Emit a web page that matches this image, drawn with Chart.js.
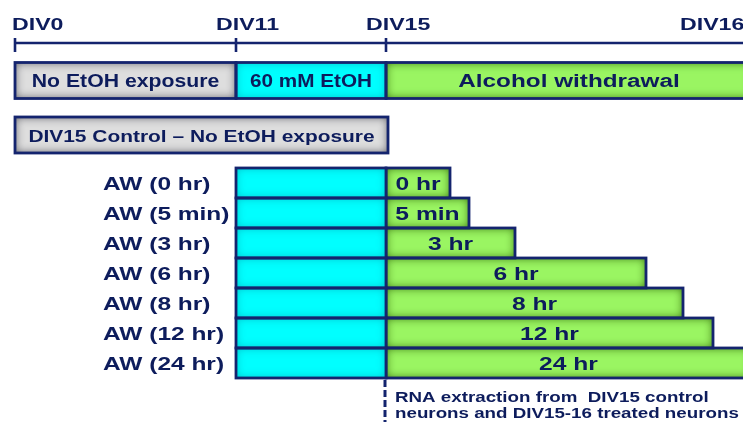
<!DOCTYPE html>
<html>
<head>
<meta charset="utf-8">
<script src="https://cdn.jsdelivr.net/npm/chart.js@4.4.1/dist/chart.umd.min.js"></script>
<style>
  html, body { margin: 0; padding: 0; background: #ffffff; overflow: hidden; }
  canvas { display: block; }
</style>
</head>
<body>
<canvas id="c" width="743" height="422"></canvas>
<script>
// ---------------- DATA (schematic timeline units) ----------------
const divLabels = ['DIV0', 'DIV11', 'DIV15', 'DIV16'];
const divTickPositions = [15, 236, 386, 700];
const divTickVisible = [true, true, true, false];

const phaseLabels = ['No EtOH exposure', '60 mM EtOH', 'Alcohol withdrawal'];
const phaseStarts = [15, 236, 386];
const phaseEnds = [236, 386, 752];

const controlLabel = 'DIV15 Control \u2013 No EtOH exposure';
const controlStart = 15;
const controlEnd = 388;

const awLabels = ['AW (0 hr)', 'AW (5 min)', 'AW (3 hr)', 'AW (6 hr)', 'AW (8 hr)', 'AW (12 hr)', 'AW (24 hr)'];
const awDurationLabels = ['0 hr', '5 min', '3 hr', '6 hr', '8 hr', '12 hr', '24 hr'];
const exposureStart = 236;
const exposureEnd = 386;
const withdrawalEnds = [450, 469, 515, 646, 683, 713, 751];

const noteLines = ['RNA extraction from  DIV15 control', 'neurons and DIV15-16 treated neurons'];

// ---------------- LAYOUT / STYLE ----------------
const NAVY = '#0d1c5c';
const BORDER = '#14246e';
const GRAY = '#dedede', CYAN = '#00ffff', GREEN = '#9af562';
const phaseColors = [GRAY, CYAN, GREEN];
const phaseRowY = 80.5, controlRowY = 135, awRowY0 = 183, awRowStep = 30;
const timelineY = 43;
const awRowY = awLabels.map((_, i) => awRowY0 + i * awRowStep);
const phaseTextScale = [1.18, 1.15, 1.35];
const FONT = '"Liberation Sans", Arial, sans-serif';

function shadeFor(color) {
  if (color === GREEN) return 'rgba(45,100,5,0.95)';
  if (color === CYAN) return 'rgba(0,120,140,0.5)';
  return 'rgba(60,60,70,0.85)';
}

function txt(ctx, s, x, y, size, sx, align) {
  ctx.save();
  ctx.font = 'bold ' + size + 'px ' + FONT;
  ctx.textBaseline = 'alphabetic';
  ctx.textAlign = 'left';
  const w = ctx.measureText(s).width * sx;
  const left = align === 'center' ? x - w / 2 : (align === 'right' ? x - w : x);
  ctx.translate(left, y);
  ctx.scale(sx, 1);
  ctx.fillStyle = NAVY;
  ctx.fillText(s, 0, 0);
  ctx.restore();
}

const barShading = {
  id: 'barShading',
  afterDatasetDraw(chart, args) {
    const ctx = chart.ctx;
    const meta = args.meta;
    const ds = chart.data.datasets[args.index];
    meta.data.forEach((bar, i) => {
      const p = bar.getProps(['x', 'y', 'base', 'height'], true);
      const left = Math.min(p.x, p.base), right = Math.max(p.x, p.base);
      const top = p.y - p.height / 2, h = p.height, w = right - left;
      const fill = Array.isArray(ds.backgroundColor) ? ds.backgroundColor[i] : ds.backgroundColor;
      ctx.save();
      ctx.beginPath();
      ctx.rect(left, top, w, h);
      ctx.clip();
      ctx.beginPath();
      ctx.rect(left - 50, top - 50, w + 100, h + 100);
      ctx.rect(left, top, w, h);
      ctx.shadowColor = shadeFor(fill);
      ctx.shadowBlur = 10;
      ctx.fillStyle = '#000';
      ctx.fill('evenodd');
      ctx.restore();
      ctx.save();
      ctx.strokeStyle = BORDER;
      ctx.lineWidth = 2.8;
      ctx.strokeRect(left, top, w, h);
      ctx.restore();
    });
  }
};

const annotations = {
  id: 'annotations',
  afterDraw(chart) {
    const ctx = chart.ctx;
    const xs = chart.scales.x, ys = chart.scales.y;
    const X = v => xs.getPixelForValue(v), Y = v => ys.getPixelForValue(v);
    ctx.save();
    ctx.strokeStyle = BORDER;
    ctx.lineWidth = 2.6;
    ctx.beginPath();
    ctx.moveTo(X(divTickPositions[0]), Y(timelineY));
    ctx.lineTo(X(760), Y(timelineY));
    ctx.stroke();
    divTickPositions.forEach((t, i) => {
      if (!divTickVisible[i]) return;
      ctx.beginPath();
      ctx.moveTo(X(t), Y(timelineY - 5));
      ctx.lineTo(X(t), Y(timelineY + 9));
      ctx.stroke();
    });
    ctx.restore();
    divLabels.forEach((s, i) => {
      const off = i === 0 ? -3 : -20;
      txt(ctx, s, X(divTickPositions[i]) + off, Y(30), 16.8, 1.38, 'left');
    });
    phaseLabels.forEach((s, i) => {
      txt(ctx, s, (X(phaseStarts[i]) + X(phaseEnds[i])) / 2, Y(phaseRowY + 6.5), 18, phaseTextScale[i], 'center');
    });
    txt(ctx, controlLabel, (X(controlStart) + X(controlEnd)) / 2, Y(controlRowY + 7), 17, 1.23, 'center');
    awLabels.forEach((s, i) => {
      txt(ctx, s, 103, Y(awRowY[i] + 6.5), 18, 1.36, 'left');
      txt(ctx, awDurationLabels[i], (X(exposureEnd) + X(withdrawalEnds[i])) / 2, Y(awRowY[i] + 6.5), 18.5, 1.33, 'center');
    });
    const lastBottom = awRowY[awRowY.length - 1] + awRowStep / 2;
    ctx.save();
    ctx.strokeStyle = BORDER;
    ctx.lineWidth = 3;
    ctx.setLineDash([7, 3]);
    ctx.beginPath();
    ctx.moveTo(X(exposureEnd) - 1, Y(lastBottom + 2));
    ctx.lineTo(X(exposureEnd) - 1, Y(422));
    ctx.stroke();
    ctx.restore();
    txt(ctx, noteLines[0], X(exposureEnd) + 9, Y(401.5), 15, 1.25, 'left');
    txt(ctx, noteLines[1], X(exposureEnd) + 9, Y(418), 15, 1.25, 'left');
  }
};

const datasets = [
  {
    label: 'Phases',
    data: phaseLabels.map((_, i) => ({ x: [phaseStarts[i], phaseEnds[i]], y: phaseRowY })),
    backgroundColor: phaseColors,
    barThickness: 36
  },
  {
    label: 'Control',
    data: [{ x: [controlStart, controlEnd], y: controlRowY }],
    backgroundColor: [GRAY],
    barThickness: 36
  },
  {
    label: 'EtOH',
    data: awLabels.map((_, i) => ({ x: [exposureStart, exposureEnd], y: awRowY[i] })),
    backgroundColor: awLabels.map(() => CYAN),
    barThickness: 30
  },
  {
    label: 'Withdrawal',
    data: awLabels.map((_, i) => ({ x: [exposureEnd, withdrawalEnds[i]], y: awRowY[i] })),
    backgroundColor: awLabels.map(() => GREEN),
    barThickness: 30
  }
];
datasets.forEach(d => { d.borderWidth = 0; d.grouped = false; d.borderSkipped = false; });

new Chart(document.getElementById('c'), {
  type: 'bar',
  data: { datasets },
  options: {
    indexAxis: 'y',
    responsive: false,
    devicePixelRatio: 1,
    animation: false,
    layout: { padding: 0 },
    plugins: { legend: { display: false }, tooltip: { enabled: false } },
    scales: {
      x: { type: 'linear', min: 0, max: 743, display: false, offset: false },
      y: { type: 'linear', min: 0, max: 422, reverse: true, display: false, offset: false }
    }
  },
  plugins: [barShading, annotations]
});
</script>
</body>
</html>
